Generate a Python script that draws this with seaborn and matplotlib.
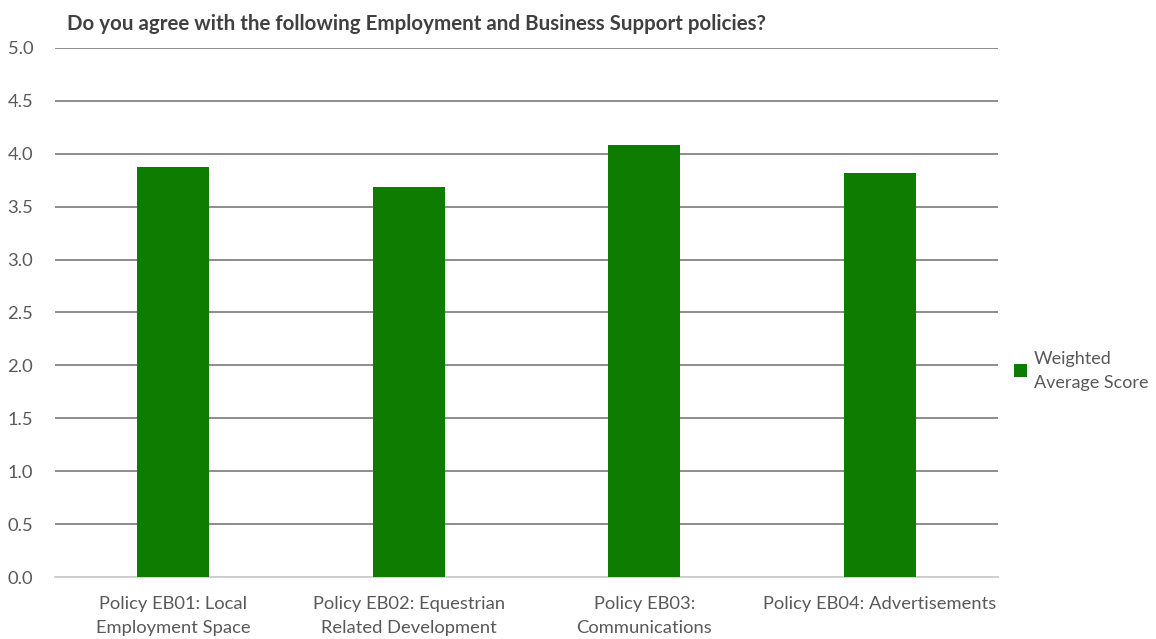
import matplotlib
matplotlib.use("Agg")
import matplotlib.pyplot as plt
import pandas as pd
import seaborn as sns

# data
policies = [
    "Policy EB01: Local\nEmployment Space",
    "Policy EB02: Equestrian\nRelated Development",
    "Policy EB03:\nCommunications",
    "Policy EB04: Advertisements",
]
scores = [3.87, 3.69, 4.08, 3.82]
series_name = "Weighted\nAverage Score"

df = pd.DataFrame({"Policy": policies, "Score": scores})

sns.set_style("white")
plt.rcParams["font.family"] = ["Lato", "DejaVu Sans"]

fig = plt.figure(figsize=(11.56, 6.39), dpi=100)
ax = fig.add_axes([0.048, 0.097, 0.815, 0.828])

sns.barplot(data=df, x="Policy", y="Score", color="#0E7C00", width=0.305,
            saturation=1, label=series_name, ax=ax, zorder=3, edgecolor="none")

ax.set_ylim(0, 5)
ax.set_yticks([i * 0.5 for i in range(11)])
ax.set_yticklabels([f"{i * 0.5:.1f}" for i in range(11)])
ax.set_xlim(-0.5, 3.5)
ax.yaxis.grid(True, color="#8C8C8C", linewidth=1.4, zorder=0)
ax.set_axisbelow(True)
for s in ["top", "right", "left"]:
    ax.spines[s].set_visible(False)
ax.spines["bottom"].set_color("#D0D0D0")
ax.spines["bottom"].set_linewidth(1.4)
ax.tick_params(axis="both", length=0, labelsize=13.2, colors="#595959")
ax.tick_params(axis="x", pad=14)
ax.tick_params(axis="y", pad=16)
for lbl in ax.get_xticklabels():
    lbl.set_linespacing(1.6)
ax.set_xlabel("")
ax.set_ylabel("")

fig.text(0.058, 0.962, "Do you agree with the following Employment and Business Support policies?",
         fontsize=14.8, fontweight="bold", color="#404040", va="center")

leg = ax.legend(loc="center left", bbox_to_anchor=(1.0, 0.39), frameon=False,
                fontsize=13.0, labelcolor="#595959", handlelength=0.75, handleheight=0.75,
                handletextpad=0.35)
for t in leg.get_texts():
    t.set_linespacing(1.6)

fig.savefig("out.png", dpi=100)
